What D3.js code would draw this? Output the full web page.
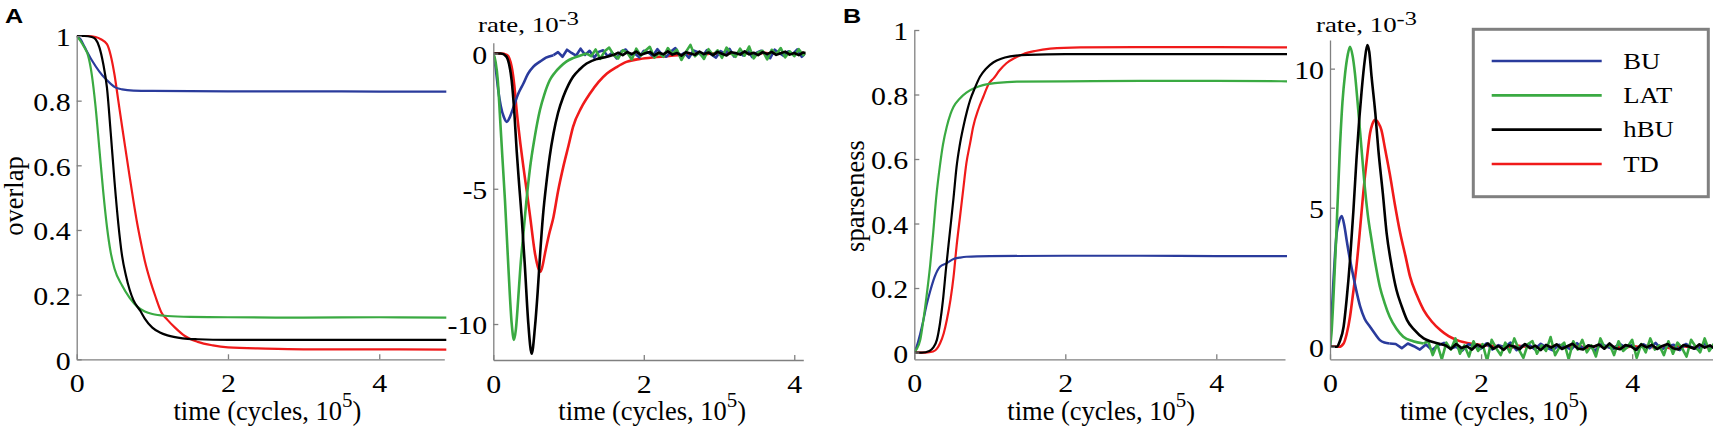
<!DOCTYPE html>
<html>
<head>
<meta charset="utf-8">
<script src="https://cdn.jsdelivr.net/npm/d3@7"></script>
<style>
  body { margin: 0; background: #fff; }
  svg { display: block; }
</style>
</head>
<body>
<div id="chart"></div>
<script>
// ---- data (time in units of 10^5 cycles) ----
const seriesNames = ["BU", "LAT", "hBU", "TD"];
const xTicks = [0, 2, 4];
const fracTicks = [0, 0.2, 0.4, 0.6, 0.8, 1];
const rateATicks = [-10, -5, 0];
const rateBTicks = [0, 5, 10];

// A: overlap
const overlapBU = [[0,1],[0.05,0.99],[0.1,0.968],[0.2,0.925],[0.3,0.89],[0.375,0.869],[0.45,0.852],[0.51,0.841],[0.6,0.835],[0.75,0.831],[1,0.83],[2,0.829],[3,0.829],[4,0.828],[4.9,0.828]];
const overlapLAT = [[0,1],[0.05,0.985],[0.1,0.965],[0.15,0.94],[0.2,0.88],[0.25,0.78],[0.3,0.65],[0.35,0.52],[0.4,0.41],[0.45,0.33],[0.5,0.28],[0.6,0.228],[0.7,0.19],[0.8,0.163],[0.9,0.148],[1.0,0.14],[1.2,0.134],[1.5,0.131],[2,0.13],[3,0.129],[4,0.13],[4.9,0.129]];
const overlapHBU = [[0,1],[0.1,1],[0.2,0.997],[0.25,0.99],[0.3,0.965],[0.35,0.915],[0.4,0.84],[0.45,0.7],[0.5,0.55],[0.55,0.42],[0.6,0.32],[0.65,0.26],[0.7,0.215],[0.75,0.183],[0.84,0.15],[0.9,0.126],[1.0,0.098],[1.1,0.083],[1.2,0.074],[1.4,0.065],[1.6,0.062],[2,0.06],[3,0.06],[4,0.06],[4.9,0.06]];
const overlapTD = [[0,1],[0.15,1],[0.25,0.997],[0.32,0.99],[0.4,0.975],[0.45,0.94],[0.5,0.88],[0.55,0.8],[0.6,0.72],[0.66,0.627],[0.7,0.565],[0.75,0.49],[0.8,0.42],[0.85,0.36],[0.9,0.305],[0.97,0.245],[1.04,0.195],[1.12,0.145],[1.2,0.122],[1.3,0.098],[1.43,0.072],[1.6,0.054],[1.8,0.043],[2.0,0.037],[2.5,0.033],[3,0.031],[4,0.031],[4.9,0.03]];

// A: rate of overlap change (10^-3); smooth core, then noisy tail at a fixed step
const rateABU = [[0,0],[0.03,-0.5],[0.066,-1.36],[0.1,-1.95],[0.14,-2.35],[0.18,-2.53],[0.22,-2.35],[0.27,-1.97],[0.33,-1.5],[0.4,-1.11],[0.46,-0.75],[0.53,-0.49],[0.62,-0.3],[0.7,-0.15],[0.8,-0.06]];
const rateABUTail = [0.05,-0.12,0.14,0.02,-0.08,0.18,-0.05,0.1,-0.15,0.06,0.12,-0.1,0.03,-0.18,0.08,0.15,-0.06,0.0,-0.14,0.1,0.04,-0.09,0.16,-0.03,-0.12,0.07,0.2,-0.08,0.02,-0.16,0.11,0.05,-0.1,0.13,-0.04,-0.15,0.09,0.0,0.17,-0.11,0.06,-0.07,0.12,-0.13,0.03,0.1,-0.05,-0.17,0.14,0.02,-0.09,0.08,-0.02,0.15,-0.12,0.04];
const rateALAT = [[0,0],[0.03,-0.3],[0.06,-1.0],[0.089,-2.34],[0.12,-3.8],[0.155,-5.42],[0.2,-7.88],[0.244,-9.97],[0.275,-10.59],[0.3,-10.2],[0.33,-9.11],[0.36,-7.9],[0.4,-6.65],[0.44,-5.45],[0.49,-4.19],[0.55,-3.1],[0.62,-2.09],[0.68,-1.5],[0.75,-0.99],[0.82,-0.7],[0.89,-0.49],[0.97,-0.3],[1.06,-0.17],[1.15,-0.08],[1.24,0]];
const rateALATTail = [-0.1,0.15,-0.2,0.08,0.22,-0.05,-0.18,0.12,0.04,-0.22,0.18,-0.08,0.1,0.25,-0.15,0.02,-0.12,0.2,-0.02,0.14,-0.24,0.06,0.32,-0.1,0.05,-0.2,0.16,-0.06,0.12,-0.16,0.22,0.0,-0.12,0.18,-0.08,0.26,-0.18,0.04,0.1,-0.22,0.14,-0.04,0.2,-0.14,0.08,-0.1,0.16,-0.06,0.1,-0.12];
const rateAHBU = [[0,0],[0.1,0],[0.17,-0.1],[0.21,-0.4],[0.244,-0.99],[0.28,-2.2],[0.31,-3.57],[0.345,-4.9],[0.377,-6.04],[0.42,-7.88],[0.465,-9.97],[0.51,-11.1],[0.554,-10.1],[0.59,-8.8],[0.62,-7.51],[0.66,-6.0],[0.71,-4.68],[0.75,-3.8],[0.8,-2.96],[0.86,-2.2],[0.93,-1.6],[1.0,-1.15],[1.06,-0.86],[1.15,-0.58],[1.24,-0.37],[1.38,-0.2],[1.51,-0.12],[1.6,-0.05]];
const rateAHBUTail = [0.03,-0.06,0.05,-0.02,0.07,-0.05,0.01,0.06,-0.07,0.03,-0.03,0.08,-0.04,0.02,-0.08,0.05,0.0,-0.05,0.07,-0.02,0.04,-0.06,0.06,-0.01,-0.07,0.05,0.02,-0.04,0.08,-0.03,0.03,-0.06,0.05,-0.02,0.06,-0.05,0.01,0.07,-0.04,0.02,-0.06,0.04,-0.01];
const rateATD = [[0,0],[0.1,0],[0.18,-0.05],[0.244,-0.49],[0.28,-1.2],[0.31,-2.09],[0.35,-3.1],[0.4,-4.19],[0.45,-5.2],[0.49,-6.04],[0.554,-7.39],[0.6,-7.95],[0.625,-8.07],[0.65,-7.9],[0.687,-7.39],[0.74,-6.7],[0.8,-6.04],[0.86,-5.1],[0.93,-4.19],[1.0,-3.4],[1.06,-2.71],[1.17,-2.0],[1.285,-1.48],[1.4,-1.05],[1.51,-0.74],[1.64,-0.5],[1.77,-0.31],[1.95,-0.2],[2.17,-0.13],[2.5,-0.05]];
const rateATDTail = [-0.03,0.02,-0.04,0.01,-0.02,0.03,-0.03,0.0,0.02,-0.04,0.03,-0.01,0.02,-0.03,0.01,0.03,-0.02];

// B: sparseness
const sparsBU = [[0,0],[0.03,0.018],[0.08,0.06],[0.12,0.1],[0.16,0.145],[0.21,0.19],[0.27,0.235],[0.34,0.266],[0.43,0.277],[0.52,0.29],[0.6,0.294],[0.69,0.297],[1,0.299],[2,0.3],[3,0.3],[4,0.299],[4.95,0.299]];
const sparsLAT = [[0,0],[0.03,0.01],[0.08,0.04],[0.12,0.1],[0.16,0.17],[0.21,0.27],[0.25,0.37],[0.29,0.48],[0.34,0.58],[0.38,0.645],[0.43,0.7],[0.48,0.74],[0.52,0.762],[0.6,0.787],[0.69,0.806],[0.8,0.82],[0.91,0.829],[1.1,0.836],[1.36,0.84],[2,0.841],[3,0.842],[4,0.842],[4.95,0.841]];
const sparsHBU = [[0,0],[0.1,0],[0.2,0.005],[0.25,0.015],[0.3,0.04],[0.34,0.09],[0.38,0.163],[0.42,0.26],[0.47,0.37],[0.52,0.48],[0.56,0.576],[0.6,0.64],[0.65,0.7],[0.7,0.75],[0.74,0.783],[0.8,0.819],[0.87,0.855],[0.95,0.88],[1.05,0.9],[1.15,0.911],[1.27,0.918],[1.5,0.923],[2,0.925],[3,0.925],[4,0.925],[4.95,0.925]];
const sparsTD = [[0,0],[0.15,0],[0.25,0.003],[0.3,0.012],[0.34,0.028],[0.39,0.06],[0.43,0.1],[0.48,0.165],[0.52,0.235],[0.56,0.33],[0.605,0.42],[0.65,0.51],[0.69,0.587],[0.74,0.65],[0.78,0.7],[0.85,0.755],[0.914,0.793],[0.99,0.835],[1.05,0.85],[1.13,0.875],[1.22,0.897],[1.33,0.913],[1.44,0.925],[1.6,0.935],[1.8,0.942],[2.2,0.946],[3,0.947],[4,0.947],[4.95,0.946]];

// B: rate of sparseness change (10^-3)
const rateBBU = [[0,0],[0.02,1.0],[0.044,2.28],[0.066,3.3],[0.088,4.08],[0.12,4.5],[0.155,4.7],[0.19,4.35],[0.22,3.84],[0.26,3.2],[0.31,2.52],[0.35,2.0],[0.4,1.44],[0.46,1.0],[0.53,0.72],[0.6,0.45],[0.66,0.24],[0.72,0.15],[0.79,0.12]];
const rateBBUTail = [0.1,-0.05,0.12,0.02,-0.1,0.08,-0.12,0.05,0.14,-0.06,0.0,-0.14,0.09,0.03,-0.08,0.12,-0.1,0.06,-0.02,0.15,-0.12,0.04,0.08,-0.09,0.11,-0.04,-0.13,0.07,0.02,-0.1,0.13,-0.06,0.05,-0.14,0.1,0.0,-0.08,0.12,-0.03,0.06,-0.11,0.09,-0.05,0.14,-0.1,0.03,0.07,-0.12,0.1,-0.02,-0.09,0.12,-0.06,0.04];
const rateBLAT = [[0,0],[0.02,0.5],[0.044,1.68],[0.08,3.8],[0.13,7.08],[0.165,8.8],[0.2,9.83],[0.235,10.5],[0.265,10.79],[0.3,10.45],[0.33,9.83],[0.365,8.8],[0.4,7.68],[0.43,6.7],[0.46,5.76],[0.5,4.75],[0.55,3.84],[0.6,3.0],[0.66,2.16],[0.72,1.6],[0.79,1.08],[0.88,0.65],[0.97,0.36],[1.1,0.2],[1.24,0.12]];
const rateBLATTail = [0.2,-0.3,0.1,-0.45,0.15,-0.1,0.3,-0.25,0.05,-0.35,0.2,-0.15,0.1,-0.5,0.25,-0.05,-0.3,0.15,-0.2,0.3,-0.1,-0.4,0.1,0.2,-0.25,0.05,-0.15,0.35,-0.3,0.0,0.15,-0.45,0.2,-0.1,0.25,-0.2,0.05,-0.35,0.3,-0.05,0.1,-0.3,0.2,-0.15,0.0,0.25,-0.4,0.1,-0.2,0.3,-0.1,0.05,-0.3,0.2,-0.25,0.15,-0.05,-0.35,0.25,0.0,-0.2,0.3,-0.15,0.1,-0.3];
const rateBHBU = [[0,0],[0.088,0],[0.13,0.2],[0.18,0.72],[0.22,1.7],[0.265,3.12],[0.31,4.9],[0.35,6.72],[0.385,8.1],[0.42,9.24],[0.46,10.3],[0.494,10.85],[0.52,10.6],[0.55,9.72],[0.6,8.4],[0.64,7.08],[0.7,5.5],[0.75,4.08],[0.81,3.0],[0.88,2.04],[0.95,1.45],[1.02,0.96],[1.12,0.6],[1.24,0.3],[1.35,0.18],[1.46,0.1]];
const rateBHBUTail = [0.05,-0.08,0.1,-0.04,0.02,-0.1,0.08,-0.02,0.12,-0.07,0.03,-0.11,0.06,0.0,-0.09,0.1,-0.05,0.04,-0.12,0.07,-0.03,0.09,-0.08,0.02,0.11,-0.06,-0.1,0.05,0.0,0.08,-0.07,0.12,-0.04,-0.09,0.06,0.02,-0.11,0.09,-0.02,0.07,-0.08,0.03,0.1,-0.05,-0.1,0.06,0.01,-0.07,0.09,-0.03,0.05,-0.08];
const rateBTD = [[0,0],[0.12,0],[0.18,0.12],[0.22,0.45],[0.265,1.08],[0.3,1.8],[0.35,2.88],[0.4,4.3],[0.44,5.52],[0.49,6.8],[0.53,7.68],[0.56,8.0],[0.6,8.16],[0.64,8.05],[0.68,7.8],[0.73,7.1],[0.79,6.24],[0.86,5.1],[0.93,4.08],[1.0,3.25],[1.06,2.52],[1.15,1.85],[1.24,1.32],[1.35,0.9],[1.46,0.6],[1.57,0.38],[1.68,0.24],[1.9,0.1],[2.2,0.03]];
const rateBTDTail = [0.02,-0.03,0.04,0.0,-0.04,0.03,-0.02,0.05,-0.03,0.01,0.03,-0.05,0.02,0.04,-0.02,0.0,-0.04,0.03,-0.01,0.04,-0.03,0.02,-0.05,0.03,0.01,-0.03,0.04,-0.02,0.02];

// tail points continue from the last core sample at a fixed time step
function tailPoints(core, tail, step) {
    const last = core[core.length - 1];
    return [last].concat(tail.map((v, i) => [+(last[0] + (i + 1) * step).toFixed(3), v]));
}

// ---- styles ----
const colors = {BU: "#2a3b9c", LAT: "#3aaa42", hBU: "#000000", TD: "#f01a1a"};
const drawOrder = ["TD", "BU", "LAT", "hBU"];
const serif = "'Liberation Serif', 'Times New Roman', serif";
const axisColor = "#808080";

const fracFmt = d => d === 0 ? "0" : d === 1 ? "1" : d3.format(".1f")(d);
const intFmt = d => String(d);

const panels = [
    {xr: [76.7, 444.3], xMax: 4.86, yr: [359.3, 36], yDom: [0, 1], yTicks: fracTicks, fmt: fracFmt,
     core: {BU: overlapBU, LAT: overlapLAT, hBU: overlapHBU, TD: overlapTD}, width: 2.2,
     xlabelX: 173.5, ylabel: "overlap", ylabelX: 23},
    {xr: [493.3, 803.3], xMax: 4.12, yr: [360, 42.7], yDom: [-11.33, 0.4], yTicks: rateATicks, fmt: intFmt,
     core: {BU: rateABU, LAT: rateALAT, hBU: rateAHBU, TD: rateATD},
     tail: {BU: tailPoints(rateABU, rateABUTail, 0.06), LAT: tailPoints(rateALAT, rateALATTail, 0.06),
            hBU: tailPoints(rateAHBU, rateAHBUTail, 0.06), TD: tailPoints(rateATD, rateATDTail, 0.1)}, width: 2.6,
     xlabelX: 558.3, titleX: 478},
    {xr: [914.3, 1285], xMax: 4.91, yr: [359.3, 30], yDom: [-0.021, 1], yTicks: fracTicks, fmt: fracFmt,
     core: {BU: sparsBU, LAT: sparsLAT, hBU: sparsHBU, TD: sparsTD}, width: 2.2,
     xlabelX: 1007.3, ylabel: "sparseness", ylabelX: 864},
    {xr: [1330, 1713], xMax: 5.07, yr: [359.3, 40], yDom: [-0.45, 11.03], yTicks: rateBTicks, fmt: intFmt,
     core: {BU: rateBBU, LAT: rateBLAT, hBU: rateBHBU, TD: rateBTD},
     tail: {BU: tailPoints(rateBBU, rateBBUTail, 0.08), LAT: tailPoints(rateBLAT, rateBLATTail, 0.06),
            hBU: tailPoints(rateBHBU, rateBHBUTail, 0.07), TD: tailPoints(rateBTD, rateBTDTail, 0.1)}, width: 2.6,
     xlabelX: 1400, titleX: 1316}
];

const svg = d3.select("#chart")
    .append("svg")
    .attr("width", 1713)
    .attr("height", 432);

svg.append("rect").attr("width", 1713).attr("height", 432).attr("fill", "#fff");

const defs = svg.append("defs");

// text stretched horizontally, like the exported figure
function stretchedText(parent, x, y, k, size) {
    return parent.append("text")
        .attr("transform", `translate(${x},${y}) scale(${k},1)`)
        .attr("font-family", serif)
        .attr("font-size", size)
        .attr("fill", "#000");
}

panels.forEach((p, i) => {
    const x = d3.scaleLinear().domain([0, p.xMax]).range(p.xr);
    const y = d3.scaleLinear().domain(p.yDom).range(p.yr);
    const g = svg.append("g");

    defs.append("clipPath").attr("id", "clip" + i)
        .append("rect")
        .attr("x", p.xr[0]).attr("y", p.yr[1] - 6)
        .attr("width", p.xr[1] - p.xr[0] + 2).attr("height", p.yr[0] - p.yr[1] + 6);

    const smooth = d3.line().x(d => x(d[0])).y(d => y(d[1])).curve(d3.curveMonotoneX);
    const jagged = d3.line().x(d => x(d[0])).y(d => y(d[1]));

    const curves = g.append("g").attr("clip-path", `url(#clip${i})`);
    drawOrder.forEach(name => {
        const s = curves.append("g")
            .attr("fill", "none")
            .attr("stroke", colors[name])
            .attr("stroke-width", p.width)
            .attr("stroke-linejoin", "round");
        s.append("path").datum(p.core[name]).attr("d", smooth);
        if (p.tail) s.append("path").datum(p.tail[name]).attr("d", jagged);
    });

    // axes, ticks point inward
    const xAxis = g.append("g")
        .attr("transform", `translate(0,${p.yr[0]})`)
        .call(d3.axisBottom(x).tickValues(xTicks).tickFormat(d3.format("d"))
            .tickSizeInner(-5).tickSizeOuter(0).tickPadding(14.5));
    const yAxis = g.append("g")
        .attr("transform", `translate(${p.xr[0]},0)`)
        .call(d3.axisLeft(y).tickValues(p.yTicks).tickFormat(p.fmt)
            .tickSizeInner(-5).tickSizeOuter(0).tickPadding(6));

    [xAxis, yAxis].forEach(ax => {
        ax.select(".domain").attr("stroke", axisColor).attr("stroke-width", 1.3);
        ax.selectAll(".tick line").attr("stroke", axisColor).attr("stroke-width", 1.3);
        ax.selectAll(".tick text")
            .attr("font-family", serif)
            .attr("font-size", 26)
            .attr("fill", "#000");
    });
    xAxis.selectAll(".tick text").attr("transform", "scale(1.15,1)");
    yAxis.selectAll(".tick text")
        .attr("x", -6 / 1.15)
        .attr("dy", "0.38em")
        .attr("transform", "scale(1.15,1)");

    // x label
    const xl = stretchedText(g, p.xlabelX, 419.5, 1.0, 26.5);
    xl.append("tspan").text("time (cycles, 10");
    xl.append("tspan").attr("font-size", 21).attr("dy", -13).text("5");
    xl.append("tspan").attr("dy", 13).text(")");

    // y label
    if (p.ylabel) {
        g.append("text")
            .attr("transform", `translate(${p.ylabelX},196) rotate(-90)`)
            .attr("text-anchor", "middle")
            .attr("font-family", serif)
            .attr("font-size", 26.5)
            .attr("fill", "#000")
            .text(p.ylabel);
    }

    // rate title above the axis
    if (p.titleX) {
        const t = stretchedText(g, p.titleX, 31.7, 1.25, 21.5);
        t.append("tspan").text("rate, 10");
        t.append("tspan").attr("font-size", 19.5).attr("dy", -6.7).text("-3");
    }
});

// panel letters
[["A", 5], ["B", 843]].forEach(([txt, px]) => {
    svg.append("text")
        .attr("transform", `translate(${px},23) scale(1.2,1)`)
        .attr("font-family", "'Liberation Sans', Arial, sans-serif")
        .attr("font-weight", "bold")
        .attr("font-size", 21)
        .attr("fill", "#000")
        .text(txt);
});

// legend
const legend = svg.append("g");
legend.append("rect")
    .attr("x", 1473.3).attr("y", 29.3)
    .attr("width", 235).attr("height", 167.4)
    .attr("fill", "#fff")
    .attr("stroke", axisColor)
    .attr("stroke-width", 3);

const legendY = d3.scalePoint().domain(seriesNames).range([61, 164]);
seriesNames.forEach(name => {
    legend.append("line")
        .attr("x1", 1491.7).attr("x2", 1601.7)
        .attr("y1", legendY(name)).attr("y2", legendY(name))
        .attr("stroke", colors[name])
        .attr("stroke-width", 2.7);
    stretchedText(legend, 1623.3, legendY(name) + 7.5, 1.16, 23).text(name);
});
</script>
</body>
</html>
